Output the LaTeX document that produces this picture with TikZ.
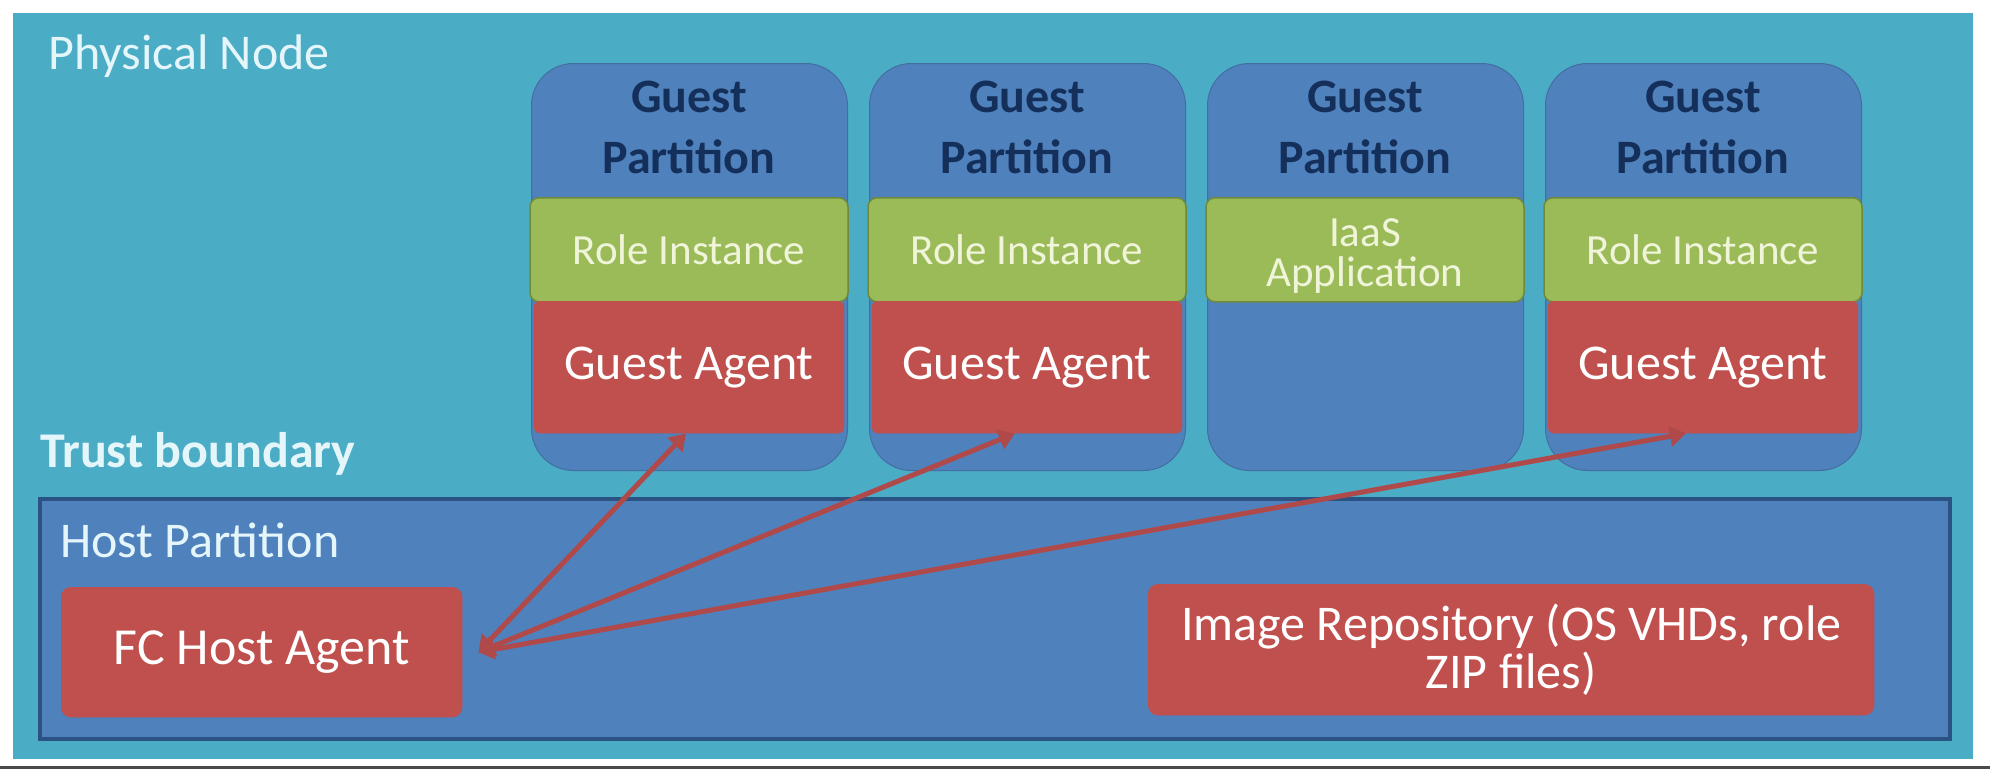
\documentclass[tikz,border=0pt]{standalone}
\usepackage{fontspec}
\setmainfont{Carlito}
\usetikzlibrary{arrows.meta}
\definecolor{cAqua}{HTML}{4BACC6}
\definecolor{cBlue}{HTML}{4F81BD}
\definecolor{cBlueEdge}{HTML}{2A5283}
\definecolor{cGreen}{HTML}{9BBB59}
\definecolor{cGreenEdge}{HTML}{6F8A3A}
\definecolor{cRed}{HTML}{C0504D}
\definecolor{cArrow}{HTML}{B04A4A}
\definecolor{cNavy}{HTML}{14305A}
\definecolor{cLightTxt}{HTML}{E4F6FA}
\definecolor{cRoleTxt}{HTML}{F0F5DA}
\definecolor{cBottom}{HTML}{4A4A4A}
\tikzset{
  panel/.style={rectangle, inner sep=0pt, anchor=north west},
  guestbox/.style={panel, fill=cBlue, draw=cBlue!85!black, line width=1pt,
    rounded corners=42pt, minimum width=316pt, minimum height=407pt},
  gtitle/.style={text=cNavy, align=center, inner sep=0pt,
    font=\bfseries\fontsize{48}{61}\selectfont},
  rolebox/.style={rectangle, anchor=north, fill=cGreen, draw=cGreenEdge, line width=1.5pt,
    rounded corners=9pt, minimum width=318pt, minimum height=104pt, inner sep=0pt,
    text=cRoleTxt, align=center, font=\fontsize{43}{40}\selectfont},
  agentbox/.style={rectangle, anchor=north, fill=cRed, draw=cRed, rounded corners=6pt,
    minimum width=310pt, minimum height=132pt, inner sep=0pt,
    text=white, font=\fontsize{50}{60}\selectfont},
  hostbox/.style={panel, fill=cBlue, draw=cBlueEdge, line width=4pt,
    minimum width=1910pt, minimum height=240pt},
  redbox/.style={panel, fill=cRed, draw=cRed, rounded corners=10pt, text=white,
    align=center},
  lbl/.style={anchor=base west, inner sep=0pt, text=cLightTxt,
    font=\fontsize{50}{60}\selectfont},
  conn/.style={draw=cArrow, line width=5pt,
    {Triangle[length=16pt,width=20pt]}-{Triangle[length=16pt,width=20pt]}},
}
\begin{document}
\begin{tikzpicture}[x=1pt,y=-1pt]
\useasboundingbox (0,0) rectangle (1990,769);
\fill[white] (0,0) rectangle (1990,769);
\node[panel, fill=cAqua, minimum width=1960pt, minimum height=746pt] (phys) at (13,13) {};
\draw[cBottom, line width=3pt] (0,767.5) -- (1990,767.5);
\node[lbl] (physlbl) at (48,69) {Physical Node};

% guest partitions
\node[guestbox] (gp1) at (531,63) {};
\node[guestbox] (gp2) at (869,63) {};
\node[guestbox] (gp3) at (1207,63) {};
\node[guestbox] (gp4) at (1545,63) {};
\node[gtitle] (gt1) at (689,127) {Guest\\Partition};
\node[gtitle] (gt2) at (1027,127) {Guest\\Partition};
\node[gtitle] (gt3) at (1365,127) {Guest\\Partition};
\node[gtitle] (gt4) at (1703,127) {Guest\\Partition};
\node[rolebox] (ri1) at (689,197) {Role Instance};
\node[rolebox] (ri2) at (1027,197) {Role Instance};
\node[rolebox, text height=82pt, text depth=9pt] (ri3) at (1365,197) {IaaS\\Application};
\node[rolebox] (ri4) at (1703,197) {Role Instance};
\node[agentbox] (ga1) at (689,301) {Guest Agent};
\node[agentbox] (ga2) at (1027,301) {Guest Agent};
\node[agentbox] (ga4) at (1703,301) {Guest Agent};

% trust boundary and host partition
\node[lbl, font=\bfseries\fontsize{50}{60}\selectfont] (trust) at (40,467) {Trust boundary};
\node[hostbox] (host) at (38,497) {};
\node[lbl] (hostlbl) at (60,557) {Host Partition};
\node[redbox, minimum width=401pt, minimum height=130pt,
  font=\fontsize{52}{60}\selectfont] (fc) at (61,587) {FC Host Agent};
\node[redbox, minimum width=726pt, minimum height=131pt,
  font=\fontsize{50}{48}\selectfont] (repo) at (1148,584) {Image Repository (OS VHDs, role\\ZIP files)};

% connectors
\coordinate (fcp) at ([xshift=16pt]fc.east);
\draw[conn] (fcp) -- ([xshift=-3pt]ga1.south);
\draw[conn] (fcp) -- ([xshift=-12pt]ga2.south);
\draw[conn] (fcp) -- ([xshift=-17pt]ga4.south);
\end{tikzpicture}
\end{document}
